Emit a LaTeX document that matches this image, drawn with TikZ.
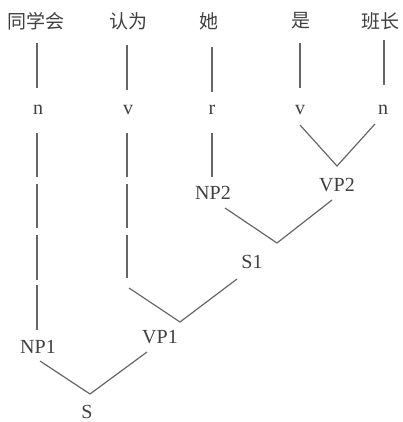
\documentclass[tikz,border=0pt]{standalone}
\usepackage{fontspec}
\setmainfont{Liberation Serif}
\newfontfamily\cjk{Noto Sans CJK SC}
\definecolor{ink}{HTML}{404040}
\definecolor{wire}{HTML}{666666}
\begin{document}
\begin{tikzpicture}[x=1pt,y=-1pt,
  word/.style={inner sep=0pt,text=ink,font=\cjk\fontsize{19}{19}\selectfont},
  lbl/.style={inner sep=0pt,text=ink,font=\fontsize{20}{20}\selectfont},
  ln/.style={draw=wire,line width=1.2pt}]
\useasboundingbox (0,0) rectangle (403,422);
% words
\node[word] (w1) at (36,21) {同学会};
\node[word] (w2) at (128,21) {认为};
\node[word] (w3) at (209,21) {她};
\node[word] (w4) at (301,21) {是};
\node[word] (w5) at (380,21) {班长};
% tags
\node[lbl] (t1) at (38,110) {n};
\node[lbl] (t2) at (128,110) {v};
\node[lbl] (t3) at (212,110) {r};
\node[lbl] (t4) at (300,110) {v};
\node[lbl] (t5) at (383,110) {n};
% phrases
\node[lbl] (np2) at (213,193) {NP2};
\node[lbl] (vp2) at (337,185) {VP2};
\node[lbl] (s1) at (252,262) {S1};
\node[lbl] (vp1) at (160,337) {VP1};
\node[lbl] (np1) at (38,347) {NP1};
\node[lbl] (s) at (87,412) {S};
% word-tag lines
\coordinate (a1) at (37,43); \coordinate (b1) at (37,88);
\coordinate (a2) at (127,45); \coordinate (b2) at (127,90);
\coordinate (a3) at (212,47); \coordinate (b3) at (212,92);
\coordinate (a4) at (300,43); \coordinate (b4) at (300,88);
\coordinate (a5) at (384,40); \coordinate (b5) at (384,85);
\foreach \i in {1,...,5} {\draw[ln] (a\i) -- (b\i);}
% n -> NP1 segments
\coordinate (n1a) at (37,133); \coordinate (n1b) at (37,177);
\coordinate (n2a) at (37,184); \coordinate (n2b) at (37,228);
\coordinate (n3a) at (37,235); \coordinate (n3b) at (37,280);
\coordinate (n4a) at (37,285); \coordinate (n4b) at (37,330);
\foreach \i in {1,...,4} {\draw[ln] (n\i a) -- (n\i b);}
% v -> VP1 segments
\coordinate (v1a) at (127,133); \coordinate (v1b) at (127,177);
\coordinate (v2a) at (127,184); \coordinate (v2b) at (127,228);
\coordinate (v3a) at (127,235); \coordinate (v3b) at (127,278);
\foreach \i in {1,...,3} {\draw[ln] (v\i a) -- (v\i b);}
% r -> NP2
\coordinate (r1) at (212,133); \coordinate (r2) at (212,177);
\draw[ln] (r1) -- (r2);
% VP2
\coordinate (p1) at (300,125); \coordinate (p2) at (337,166); \coordinate (p3) at (375,124);
\draw[ln] (p1) -- (p2) -- (p3);
% S1
\coordinate (q1) at (225,208); \coordinate (q2) at (277,243); \coordinate (q3) at (332,200);
\draw[ln] (q1) -- (q2) -- (q3);
% VP1
\coordinate (u1) at (129,288); \coordinate (u2) at (180,322); \coordinate (u3) at (237,279);
\draw[ln] (u1) -- (u2) -- (u3);
% S
\coordinate (k1) at (40,361); \coordinate (k2) at (90,394); \coordinate (k3) at (147,352);
\draw[ln] (k1) -- (k2) -- (k3);
\end{tikzpicture}
\end{document}
